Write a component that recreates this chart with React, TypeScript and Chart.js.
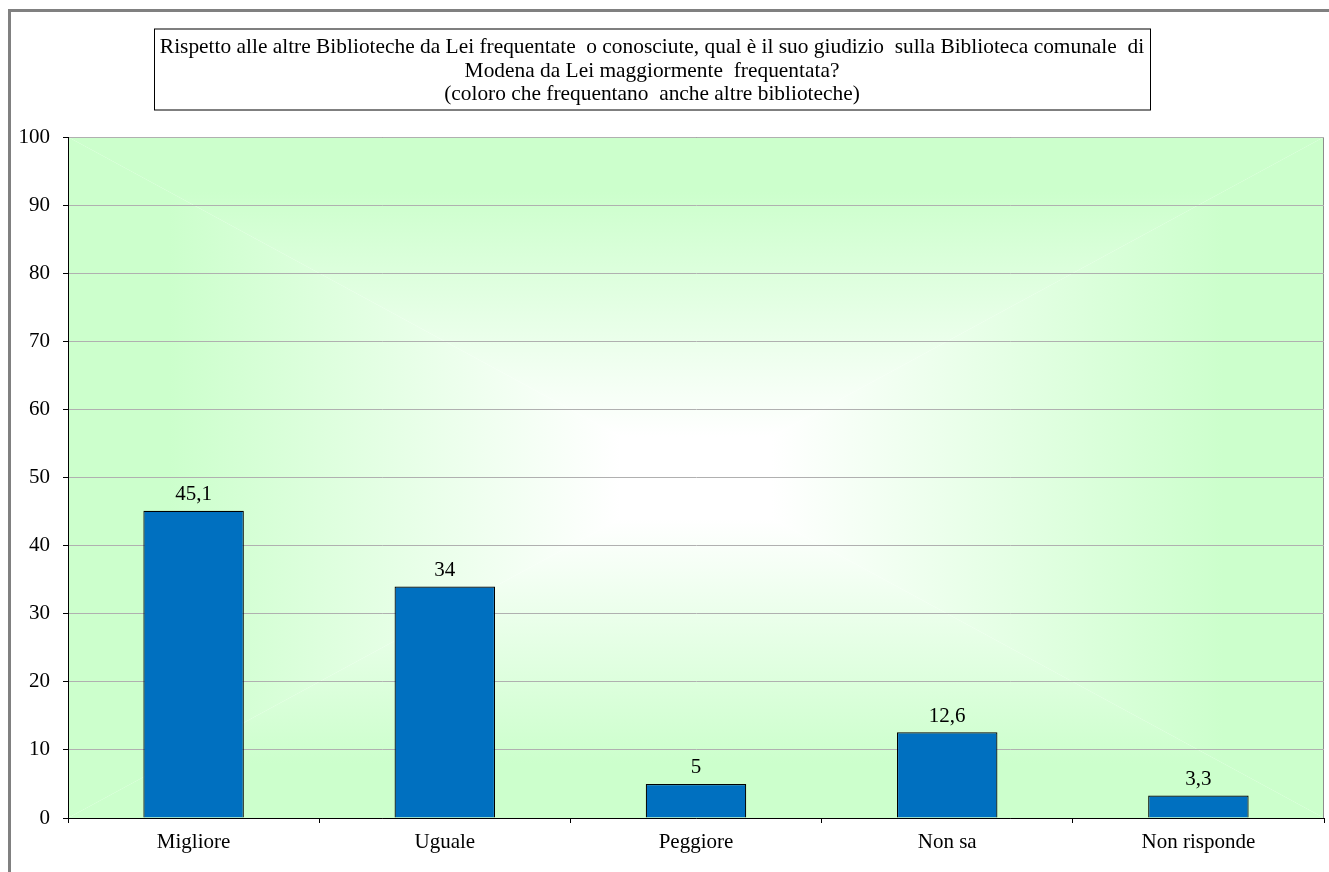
import React, { useEffect, useRef } from "react";
import { Chart, registerables } from "chart.js";

Chart.register(...registerables);

const categories = ["Migliore", "Uguale", "Peggiore", "Non sa", "Non risponde"];
const values = [45.1, 34, 5, 12.6, 3.3];
const titleLines = [
  "Rispetto alle altre Biblioteche da Lei frequentate  o conosciute, qual è il suo giudizio  sulla Biblioteca comunale  di",
  "Modena da Lei maggiormente  frequentata?",
  "(coloro che frequentano  anche altre biblioteche)",
];
const yMin = 0;
const yMax = 100;
const yStep = 10;

const W = 1329;
const H = 872;
const FONT = "'Liberation Serif', 'Times New Roman', serif";

const formatValue = (v: number) => String(v).replace(".", ",");

// Page frame, title box and the "from centre" gradient behind the plot.
const backdropPlugin = {
  id: "backdrop",
  beforeDraw(chart: any) {
    const { ctx, chartArea } = chart;
    const { left, top, right, bottom } = chartArea;
    ctx.save();
    ctx.fillStyle = "#ffffff";
    ctx.fillRect(0, 0, W, H);

    // outer frame
    ctx.fillStyle = "#808080";
    ctx.fillRect(8, 9, 3, H);
    ctx.fillRect(8, 9, W, 3);

    // title box
    const bx = 154, by = 28.5, bw = 996, bh = 81;
    ctx.strokeStyle = "#000000";
    ctx.lineWidth = 1;
    ctx.strokeRect(bx + 0.5, by + 0.5, bw, bh);
    ctx.fillStyle = "#000000";
    ctx.font = `21.4px ${FONT}`;
    ctx.textAlign = "center";
    ctx.textBaseline = "alphabetic";
    const cx = bx + bw / 2;
    titleLines.forEach((line, i) => {
      ctx.fillText(line, cx, 53 + i * 23.5);
    });

    // plot background: rectangular gradient from white centre to light green edges
    const mx = (left + right) / 2;
    const my = (top + bottom) / 2;
    const stops: [number, string][] = [
      [0, "#ffffff"],
      [0.12, "#ffffff"],
      [0.84, "#ccffcc"],
      [1, "#ccffcc"],
    ];
    const tri = (pts: number[][], x0: number, y0: number, x1: number, y1: number) => {
      ctx.save();
      ctx.beginPath();
      ctx.moveTo(pts[0][0], pts[0][1]);
      ctx.lineTo(pts[1][0], pts[1][1]);
      ctx.lineTo(pts[2][0], pts[2][1]);
      ctx.closePath();
      ctx.clip();
      const g = ctx.createLinearGradient(x0, y0, x1, y1);
      stops.forEach(([o, c]) => g.addColorStop(o, c));
      ctx.fillStyle = g;
      ctx.fillRect(left - 1, top - 1, right - left + 2, bottom - top + 2);
      ctx.restore();
    };
    tri([[left, top], [right, top], [mx, my]], mx, my, mx, top);
    tri([[left, bottom], [right, bottom], [mx, my]], mx, my, mx, bottom);
    tri([[left, top], [left, bottom], [mx, my]], mx, my, left, my);
    tri([[right, top], [right, bottom], [mx, my]], mx, my, right, my);

    // plot border
    ctx.strokeStyle = "#8c8c8c";
    ctx.lineWidth = 1;
    ctx.strokeRect(left + 0.5, top + 0.5, right - left - 1, bottom - top);
    ctx.restore();
  },
};

// Value labels above each bar.
const valueLabelPlugin = {
  id: "valueLabels",
  afterDatasetsDraw(chart: any) {
    const { ctx } = chart;
    const meta = chart.getDatasetMeta(0);
    ctx.save();
    ctx.fillStyle = "#000000";
    ctx.font = `21px ${FONT}`;
    ctx.textAlign = "center";
    ctx.textBaseline = "alphabetic";
    meta.data.forEach((bar: any, i: number) => {
      ctx.fillText(formatValue(values[i]), bar.x, bar.y - 10.5);
    });
    ctx.restore();
  },
};

export default function App() {
  const canvasRef = useRef<HTMLCanvasElement | null>(null);

  useEffect(() => {
    const canvas = canvasRef.current;
    if (!canvas) return;
    const chart = new Chart(canvas, {
      type: "bar",
      data: {
        labels: categories,
        datasets: [
          {
            data: values,
            backgroundColor: "#0070C0",
            borderColor: "#000000",
            borderWidth: 1.2,
            barPercentage: 0.4,
            categoryPercentage: 1,
          },
        ],
      },
      options: {
        responsive: false,
        animation: false,
        devicePixelRatio: 1,
        layout: { padding: { top: 137, right: 5, bottom: 0, left: 0 } },
        plugins: {
          legend: { display: false },
          title: { display: false },
          tooltip: { enabled: false },
        },
        scales: {
          x: {
            offset: true,
            grid: {
              offset: true,
              drawOnChartArea: false,
              drawTicks: true,
              tickLength: 5,
              tickColor: "#000000",
            },
            border: { color: "#000000", width: 1 },
            ticks: {
              color: "#000000",
              font: { family: FONT, size: 21 },
              padding: 7,
              maxRotation: 0,
            },
            afterFit(scale: any) {
              scale.height = 54;
            },
          },
          y: {
            min: yMin,
            max: yMax,
            grid: {
              color: "#b0b0b0",
              lineWidth: 1,
              drawTicks: true,
              tickLength: 5,
              tickColor: "#000000",
            },
            border: { color: "#000000", width: 1 },
            ticks: {
              stepSize: yStep,
              color: "#000000",
              font: { family: FONT, size: 21 },
              padding: 13,
            },
            afterFit(scale: any) {
              scale.width = 68;
            },
          },
        },
      },
      plugins: [backdropPlugin, valueLabelPlugin],
    });
    return () => chart.destroy();
  }, []);

  return (
    <div style={{ position: "fixed", left: 0, top: 0, width: W, height: H, overflow: "hidden" }}>
      <canvas ref={canvasRef} width={W} height={H} style={{ display: "block", width: W, height: H }} />
    </div>
  );
}
